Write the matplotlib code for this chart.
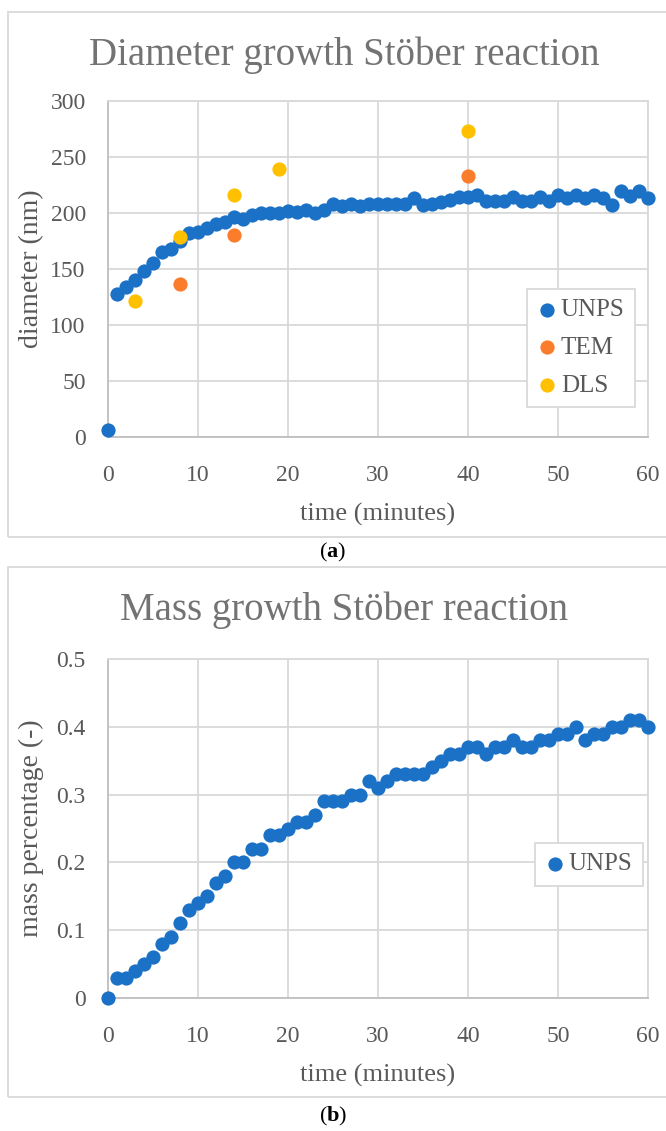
import matplotlib.pyplot as plt
from matplotlib.patches import Rectangle

plt.rcParams['font.family'] = ['Liberation Serif', 'DejaVu Serif']
plt.rcParams['mathtext.fontset'] = 'custom'
plt.rcParams['mathtext.rm'] = 'Liberation Serif'
plt.rcParams['mathtext.bf'] = 'Liberation Serif:bold'

# time axis, minutes 0..60
minutes = list(range(61))

# (a) diameter, nm
unps_diam = [6, 128, 134, 140, 148, 155, 165, 168, 175, 182,
             183, 187, 190, 192, 196, 195, 198, 200, 200, 200,
             202, 201, 203, 200, 203, 208, 206, 208, 206, 208,
             208, 208, 208, 208, 213, 207, 208, 210, 212, 214,
             214, 216, 211, 211, 211, 214, 211, 211, 214, 211,
             216, 213, 216, 213, 216, 213, 207, 220, 215, 220,
             213]
tem_t = [8, 14, 40]
tem_diam = [137, 180, 233]
dls_t = [3, 8, 14, 19, 40]
dls_diam = [121, 179, 216, 239, 273]

# (b) mass percentage
unps_mass = [0.0, 0.03, 0.03, 0.04, 0.05, 0.06, 0.08, 0.09, 0.11, 0.13,
             0.14, 0.15, 0.17, 0.18, 0.20, 0.20, 0.22, 0.22, 0.24, 0.24,
             0.25, 0.26, 0.26, 0.27, 0.29, 0.29, 0.29, 0.30, 0.30, 0.32,
             0.31, 0.32, 0.33, 0.33, 0.33, 0.33, 0.34, 0.35, 0.36, 0.36,
             0.37, 0.37, 0.36, 0.37, 0.37, 0.38, 0.37, 0.37, 0.38, 0.38,
             0.39, 0.39, 0.40, 0.38, 0.39, 0.39, 0.40, 0.40, 0.41, 0.41,
             0.40]

BLUE = '#1a71c6'
ORANGE = '#fb7d2b'
GOLD = '#ffc000'
TXT = '#595959'
TITLE = '#737373'
GRID = '#d9d9d9'
AXIS = '#bfbfbf'

W, H = 666, 1131
fig = plt.figure(figsize=(W / 100, H / 100), dpi=100)


def px_axes(left, top, right, bottom):
    return fig.add_axes([left / W, 1 - bottom / H, (right - left) / W, (bottom - top) / H])


def style(ax, ymax, yticks, ylabels, ylabel):
    ax.set_xlim(0, 60)
    ax.set_ylim(0, ymax)
    ax.set_xticks(range(0, 61, 10))
    ax.set_yticks(yticks)
    ax.set_yticklabels(ylabels)
    ax.grid(True, color=GRID, linewidth=1.3)
    ax.set_axisbelow(True)
    for s in ['top', 'right']:
        ax.spines[s].set_color(GRID)
        ax.spines[s].set_linewidth(1.3)
    for s in ['left', 'bottom']:
        ax.spines[s].set_color(AXIS)
        ax.spines[s].set_linewidth(1.3)
    ax.tick_params(length=0, labelsize=17, labelcolor=TXT)
    ax.tick_params(axis='x', pad=20)
    ax.tick_params(axis='y', pad=16)
    ax.set_xlabel('time (minutes)', fontsize=19, color=TXT, labelpad=12)
    ax.set_ylabel(ylabel, fontsize=20, color=TXT)
    ax.yaxis.set_label_coords((44 - 108) / 540, 0.5)


def legend(ax, x_px, y_px, left, top, width, height, **kw):
    leg = ax.legend(loc='upper left',
                    bbox_to_anchor=((x_px - left) / width, (top + height - y_px) / height),
                    borderaxespad=0, fontsize=18, frameon=True, fancybox=False,
                    edgecolor=GRID, handletextpad=0.15, borderpad=0.4,
                    handlelength=0.8, markerscale=1.0, framealpha=1, **kw)
    leg.get_frame().set_linewidth(1.3)
    for t in leg.get_texts():
        t.set_color(TXT)
    return leg


# panel frames
fig.patches.append(Rectangle((8 / W, 1 - 537 / H), 1.2, 525 / H, transform=fig.transFigure,
                             fill=False, edgecolor='#d9d9d9', linewidth=1.3))
fig.patches.append(Rectangle((8 / W, 1 - 1097 / H), 1.2, 530 / H, transform=fig.transFigure,
                             fill=False, edgecolor='#d9d9d9', linewidth=1.3))

# (a)
ax1 = px_axes(108, 101, 648, 437)
ax1.scatter(minutes, unps_diam, s=105, color=BLUE, label='UNPS', zorder=3, linewidths=0, clip_on=False)
ax1.scatter(tem_t, tem_diam, s=105, color=ORANGE, label='TEM', zorder=3, linewidths=0, clip_on=False)
ax1.scatter(dls_t, dls_diam, s=105, color=GOLD, label='DLS', zorder=3, linewidths=0, clip_on=False)
style(ax1, 300, range(0, 301, 50), [str(v) for v in range(0, 301, 50)], 'diameter (nm)')
fig.text(344 / W, 1 - 55 / H, 'Diameter growth Stöber reaction', fontsize=28,
         color=TITLE, ha='center', va='center')
legend(ax1, 527, 289, 108, 101, 540, 336, labelspacing=0.6)

# (b)
ax2 = px_axes(108, 659, 648, 998)
ax2.scatter(minutes, unps_mass, s=105, color=BLUE, label='UNPS', zorder=3, linewidths=0, clip_on=False)
style(ax2, 0.5, [0, 0.1, 0.2, 0.3, 0.4, 0.5], ['0', '0.1', '0.2', '0.3', '0.4', '0.5'],
      'mass percentage (-)')
fig.text(344 / W, 1 - 610 / H, 'Mass growth Stöber reaction', fontsize=28,
         color=TITLE, ha='center', va='center')
legend(ax2, 535, 843, 108, 659, 540, 339)

# captions
fig.text(0.5, 1 - 552 / H, r'($\mathbf{a}$)', ha='center', va='center', fontsize=16, color='black')
fig.text(0.5, 1 - 1116 / H, r'($\mathbf{b}$)', ha='center', va='center', fontsize=16, color='black')

fig.savefig('out.png', dpi=100)
